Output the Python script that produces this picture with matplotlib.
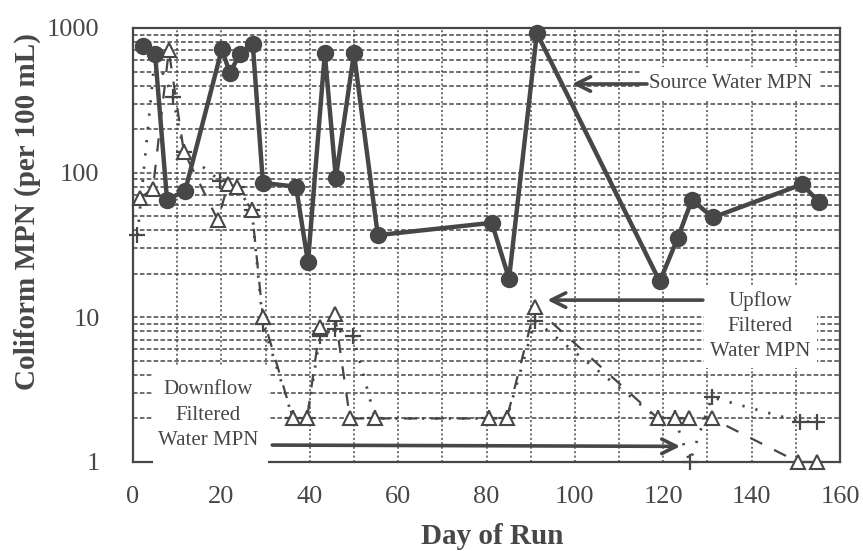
import matplotlib
matplotlib.use("Agg")
import matplotlib.pyplot as plt
from matplotlib.patches import Rectangle
from matplotlib.ticker import FixedLocator, LogLocator, NullFormatter

# ---- data ----
src_days = [2.3, 5.0, 7.7, 11.8, 20.1, 21.9, 24.2, 27.1, 29.4, 36.9, 39.6, 43.4,
            45.9, 50.0, 55.4, 81.2, 85.1, 91.4, 119.2, 123.3, 126.5, 131.2, 151.4, 155.2]
src_vals = [750, 660, 65, 75, 714, 490, 660, 775, 85, 80, 24, 668,
            92, 668, 37, 45, 18.5, 920, 17.7, 35.5, 65, 49, 83, 63]

up_days = [1.6, 4.5, 8.1, 11.5, 19.2, 21.5, 23.5, 26.9, 29.4, 36.2, 39.4, 42.3,
           45.7, 49.1, 54.8, 80.5, 84.6, 91.0, 118.8, 122.6, 125.8, 131.0, 150.5, 154.8]
up_vals = [67, 77, 700, 140, 47, 83, 80, 55, 10, 2, 2, 8.6,
           10.5, 2, 2, 2, 2, 11.7, 2, 2, 2, 2, 1, 1]

down_days = [1.0, 5.0, 9.0, 11.5, 19.7, 23.5, 26.9, 29.4, 36.2, 39.4, 42.3, 45.7,
             49.8, 54.8, 80.5, 84.6, 91.0, 118.8, 122.6, 126.0, 131.0, 151.0, 154.8]
down_vals = [37, 650, 335, 140, 88, 80, 55, 9, 2, 2, 7.4, 8.3,
             7.4, 2, 2, 2, 9.5, 2, 2, 1, 2.8, 1.9, 1.9]

x_ticks = [0, 20, 40, 60, 80, 100, 120, 140, 160]
y_ticks = [1, 10, 100, 1000]
y_ticklabels = ["1", "10", "100", "1000"]

INK = "#474747"
SERIF = ["Liberation Serif", "DejaVu Serif"]

fig = plt.figure(figsize=(8.63, 5.51), dpi=100)
ax = fig.add_axes([133 / 863, 1 - 462 / 551, 707 / 863, 434 / 551])
ax.set_yscale("log")
ax.set_xlim(0, 160)
ax.set_ylim(1, 1000)

# grid: dashed horizontals at every log step, dotted verticals every 10 days
ax.yaxis.set_major_locator(FixedLocator(y_ticks))
ax.yaxis.set_minor_locator(LogLocator(base=10, subs=range(2, 10)))
ax.yaxis.set_minor_formatter(NullFormatter())
ax.set_yticks(y_ticks)
ax.set_yticklabels(y_ticklabels)
ax.set_xticks(x_ticks)
ax.set_xticks(range(0, 161, 10), minor=True)
ax.grid(True, axis="y", which="both", color=INK, lw=1.1, ls=(0, (3, 1.5)), zorder=0)
ax.grid(True, axis="x", which="both", color=INK, lw=1.1, ls=(0, (1.3, 1.6)), zorder=0)
ax.set_axisbelow(True)

ax.tick_params(axis="both", which="both", length=0)
ax.tick_params(axis="x", pad=17, labelsize=19, labelcolor=INK)
ax.tick_params(axis="y", pad=24, labelsize=19, labelcolor=INK)
for lab in ax.get_xticklabels() + ax.get_yticklabels():
    lab.set_family(SERIF)

for sp in ax.spines.values():
    sp.set_color(INK)
    sp.set_linewidth(1.6)

# series
ax.plot(down_days, down_vals, color=INK, lw=2.0, ls=(0, (0.8, 4)),
        marker="+", ms=11, mew=1.6, zorder=3, clip_on=False)
ax.plot(up_days, up_vals, color=INK, lw=1.6, ls=(0, (6, 6)),
        marker="^", ms=10.5, mew=1.5, mfc="white", mec=INK, zorder=4, clip_on=False)
ax.plot(src_days, src_vals, color=INK, lw=3.2, marker="o", ms=11.5,
        mfc=INK, mec=INK, zorder=5, clip_on=False)

# annotations
box = dict(boxstyle="square,pad=0.35", fc="white", ec="none")
arrow = dict(arrowstyle="->", color=INK, lw=2.6, mutation_scale=26, shrinkA=0, shrinkB=0)

ax.text(0.845, 0.871, "Source Water MPN", transform=ax.transAxes, ha="center", va="center",
        fontsize=15, family=SERIF, color=INK, bbox=box, zorder=6)
ax.annotate("", xy=(0.621, 0.871), xytext=(0.727, 0.871), xycoords="axes fraction",
            arrowprops=arrow, zorder=6)

ax.text(0.887, 0.313, "Upflow\nFiltered\nWater MPN", transform=ax.transAxes, ha="center",
        va="center", fontsize=15, family=SERIF, color=INK, linespacing=1.45,
        bbox=dict(boxstyle="square,pad=0.3", fc="white", ec="none"), zorder=6)
ax.annotate("", xy=(0.586, 0.373), xytext=(0.806, 0.373), xycoords="axes fraction",
            arrowprops=arrow, zorder=6)

# white panel behind the downflow label (it also hides part of the bottom frame)
ax.add_patch(Rectangle(((153 - 133) / 707, (462 - 468) / 434), 115 / 707, 103 / 434,
                       transform=ax.transAxes, fc="white", ec="none", zorder=5.5,
                       clip_on=False))
ax.text(0.106, 0.108, "Downflow\nFiltered\nWater MPN", transform=ax.transAxes, ha="center",
        va="center", fontsize=15, family=SERIF, color=INK, linespacing=1.45,
        zorder=6, clip_on=False)
ax.annotate("", xy=(0.774, 0.036), xytext=(0.197, 0.039), xycoords="axes fraction",
            arrowprops=arrow, zorder=6)

ax.set_ylabel("Coliform MPN (per 100 mL)", fontsize=21, fontweight="bold",
              family=SERIF, color=INK)
ax.yaxis.set_label_coords(-0.130, 0.578)
ax.set_xlabel("Day of Run", fontsize=21, fontweight="bold", family=SERIF, color=INK)
ax.xaxis.set_label_coords(0.508, -0.140)

fig.savefig("out.png", dpi=100)
